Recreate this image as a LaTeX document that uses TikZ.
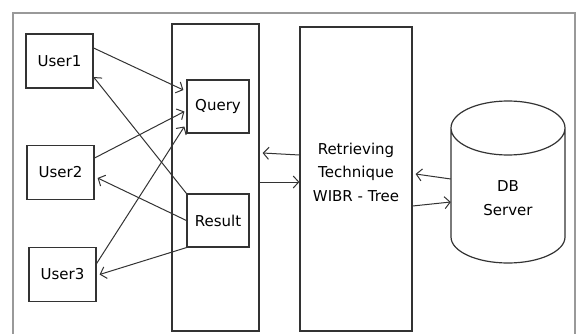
\documentclass[tikz,border=0pt]{standalone}
\usepackage{fontspec}
\setmainfont{DejaVu Sans}
\usepackage{graphicx,tikz}
\usetikzlibrary{arrows.meta}

\begin{document}
\begin{tikzpicture}[x=1pt,y=-1pt,
        box/.style={draw=black!80,line width=1.2pt,inner sep=0pt,font=\fontsize{15}{23}\selectfont},
        usr/.style={box,minimum width=67pt,minimum height=54pt},
        msg/.style={box,minimum width=62pt,minimum height=53pt},
        arr/.style={draw=black!80,line width=1pt,-{Straight Barb[length=5.5pt,width=12pt]}}]
        \useasboundingbox (0,0) rectangle (580,334);
        % outer frame
        \draw[black!40,line width=1.4pt] (13,334) -- (13,13) -- (575,13) -- (575,334);
        % users
        \node[usr] (u1) at (59.5,61) {User1};
        \node[usr] (u2) at (60.5,172.5) {User2};
        \node[usr] (u3) at (62.5,274.5) {User3};
        % middle panel
        \node[box,minimum width=87pt,minimum height=307pt] (panel) at (215.5,177.5) {};
        \node[msg] (query) at (218,106.5) {Query};
        \node[msg] (result) at (218,220.5) {Result};
        % retrieving technique
        \node[box,minimum width=112pt,minimum height=304pt,
            label={[yshift=7pt,align=center,font=\fontsize{15}{23.5}\selectfont]center:Retrieving\\Technique\\WIBR - Tree}] (retr) at (356,179) {};
        % db server
        \draw[black!80,line width=1.2pt] (451,128) arc[start angle=180,end angle=-180,x radius=57,y radius=27]
            -- (451,237) arc[start angle=180,end angle=0,x radius=57,y radius=26] -- (565,128);
        \node[font=\fontsize{15}{23.5}\selectfont,align=center,minimum width=114pt,inner sep=0pt] (db) at (508,198) {DB\\Server};
        % queries
        \draw[arr] ([yshift=13pt]u1.east) -- ([yshift=16.5pt,xshift=-3pt]query.west);
        \draw[arr] ([yshift=14.5pt]u2.east) -- ([yshift=-5pt,xshift=-2pt]query.west);
        \draw[arr] ([yshift=11pt]u3.east) -- ([yshift=-20pt,xshift=-2pt]query.west);
        % results
        \draw[arr] (result.north west) -- ([yshift=-16pt]u1.east);
        \draw[arr] (result.west) -- ([yshift=-5.5pt,xshift=3pt]u2.east);
        \draw[arr] (result.south west) -- ([yshift=0pt,xshift=3pt]u3.east);
        % panel <-> retrieving
        \draw[arr] ([yshift=24pt]retr.west) -- ([yshift=24.5pt,xshift=3pt]panel.east);
        \draw[arr] ([yshift=-4.5pt]panel.east) -- ([yshift=-3pt]retr.west);
        % retrieving <-> db
        \draw[arr] ([yshift=19pt]db.west) -- ([yshift=5pt,xshift=3pt]retr.east);
        \draw[arr] ([yshift=-27pt]retr.east) -- ([yshift=-4pt]db.west);
\end{tikzpicture}
\end{document}
